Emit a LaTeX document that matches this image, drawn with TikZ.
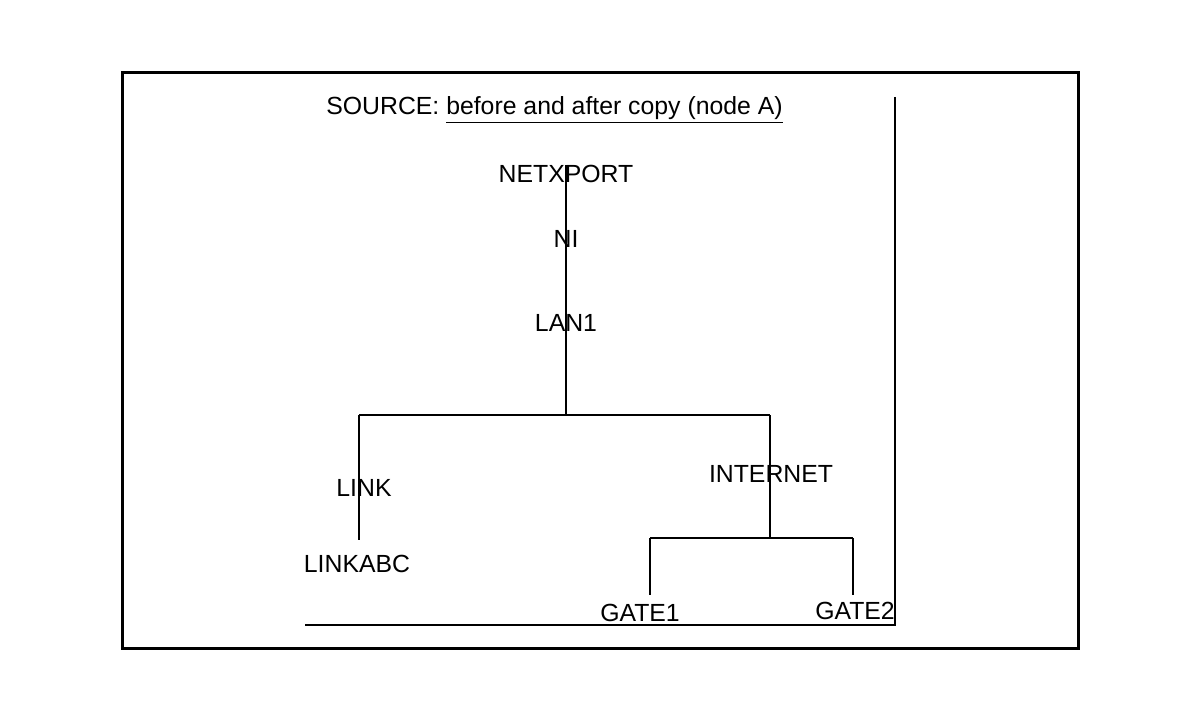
\documentclass[tikz,border=0pt]{standalone}
\usepackage{fontspec}
\setmainfont{Liberation Sans}
\usetikzlibrary{positioning}
\tikzset{lbl/.style={inner sep=0pt, font=\fontsize{12.4}{14}\selectfont}}
\begin{document}
\begin{tikzpicture}[x=0.5pt,y=-0.5pt]
	% frame
	\useasboundingbox (0,0) rectangle (1200,722);
	\fill[white] (0,0) rectangle (1200,722);
	\draw[line width=1.5pt] (122,73) rectangle (1078,648);
	\coordinate (rtop) at (895,97);
	\coordinate (rbot) at (895,625);
	\coordinate (lbot) at (305,625);
	\draw[line width=0.75pt] (rtop) -- (rbot) -- (lbot);
	% labels
	\node[lbl, anchor=west] (title) at (326,110) {SOURCE: \underline{before and after copy (node A)}};
	\node[lbl] (netxport) at (566,174) {NETXPORT};
	\node[lbl] (ni) at (566,239) {NI};
	\node[lbl] (lan) at (566,323) {LAN1};
	\node[lbl] (link) at (364,488) {LINK};
	\node[lbl] (linkabc) at (357,564) {LINKABC};
	\node[lbl] (internet) at (771,474) {INTERNET};
	\node[lbl] (gatea) at (640,613) {GATE1};
	\node[lbl] (gateb) at (855,611) {GATE2};
	% tree
	\coordinate (split) at (566,415);
	\coordinate (splitl) at (359,415);
	\coordinate (splitr) at (770,415);
	\coordinate (linkend) at (359,540);
	\coordinate (gsplit) at (770,538);
	\coordinate (gsplitl) at (650,538);
	\coordinate (gsplitr) at (853,538);
	\begin{scope}[line width=0.75pt]
	\draw (netxport.north) -- (split);
	\draw (splitl) -- (splitr);
	\draw (splitl) -- (linkend);
	\draw (splitr) -- (gsplit);
	\draw (gsplitl) -- (gsplitr);
	\draw (gsplitl) -- (650,595);
	\draw (gsplitr) -- (853,595);
	\end{scope}
\end{tikzpicture}
\end{document}
